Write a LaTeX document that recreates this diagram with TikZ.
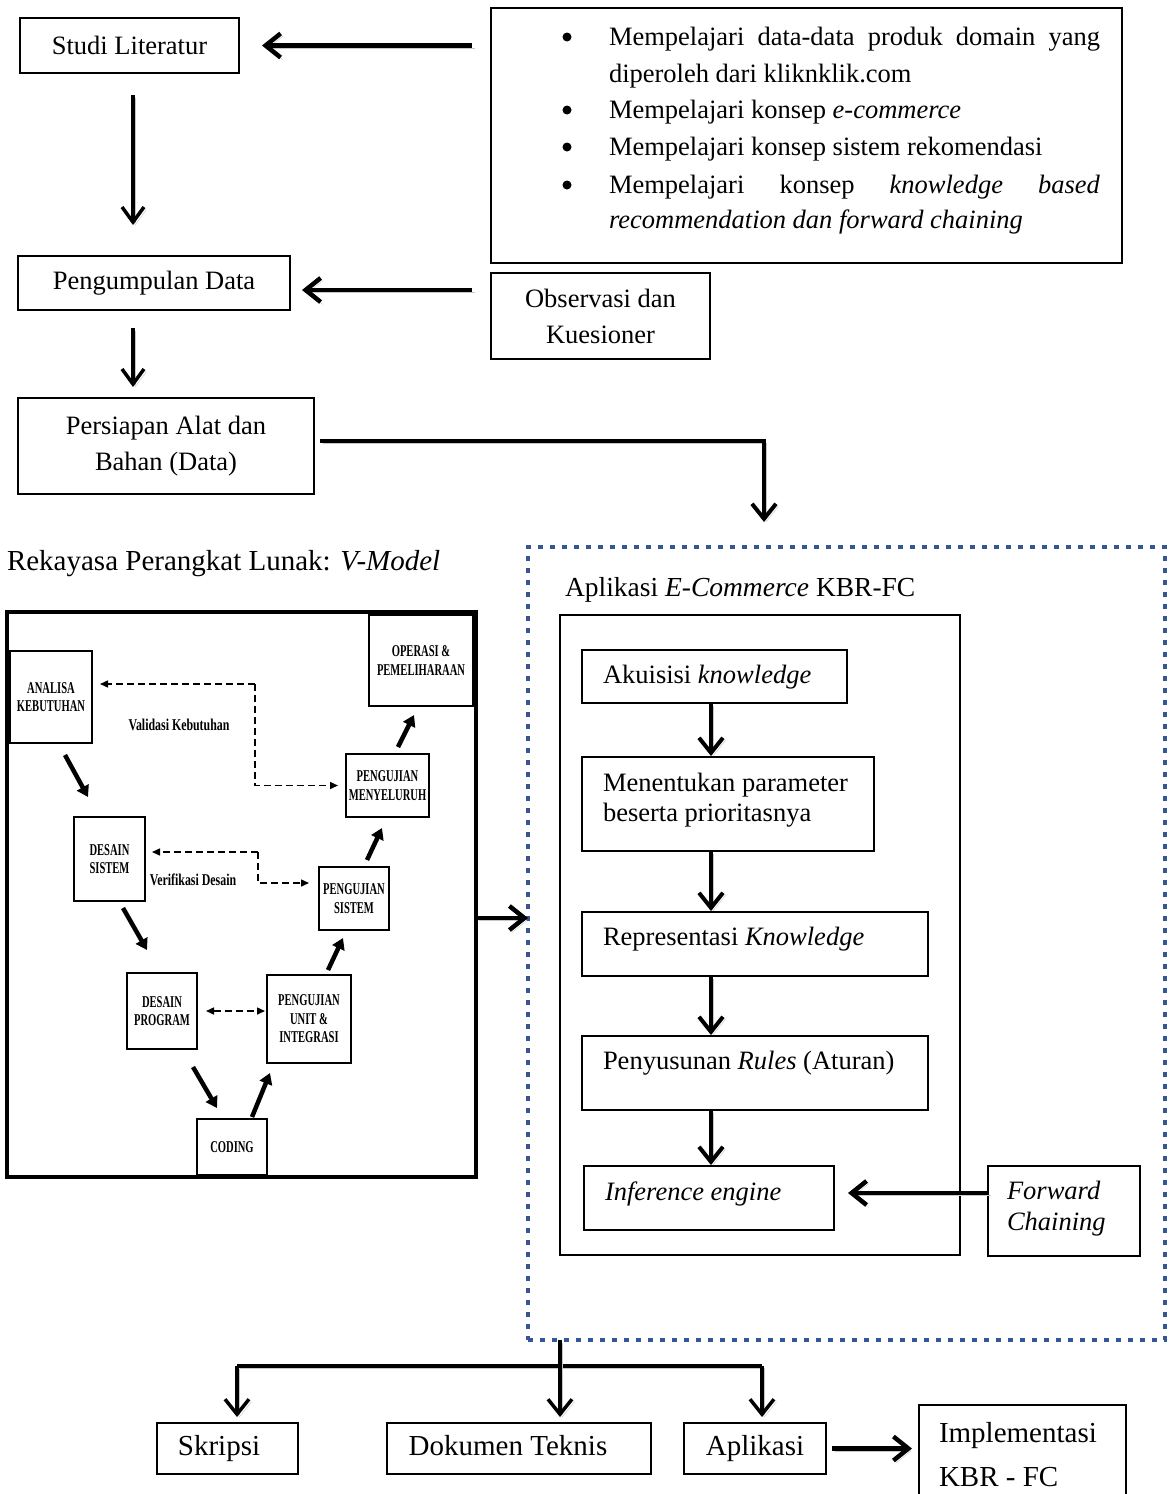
\documentclass[tikz,border=0pt]{standalone}
\usepackage{fontspec}
\setmainfont{Liberation Serif}
\newfontfamily\vmfont[FakeStretch=0.64]{Liberation Serif}
\newfontfamily\vlfont[FakeStretch=0.72]{Liberation Serif}
\usetikzlibrary{arrows.meta}
\definecolor{dotblue}{RGB}{52,86,148}
\begin{document}
\begin{tikzpicture}[x=1pt,y=-1pt,
  every node/.style={inner sep=0pt, outer sep=0pt},
  mainfont/.style={font=\fontsize{26.5}{36}\selectfont},
  box/.style={draw, line width=2pt, mainfont, align=center},
  rbox/.style={draw, line width=1.4pt},
  bbox/.style={draw, line width=1.5pt, font=\fontsize{29}{34}\selectfont, align=center, text height=20pt, text depth=7pt},
  txt/.style={mainfont, anchor=west, align=left},
  bulletdot/.style={circle, fill, minimum size=9pt},
  vbox/.style={draw, line width=1.8pt, font=\vmfont\bfseries\fontsize{16.5}{18.5}\selectfont, align=center},
  vlab/.style={font=\vlfont\bfseries\fontsize{16.5}{18}\selectfont},
  shadowline/.style={preaction={draw=gray!45, transform canvas={shift={(2.5pt,-2.5pt)}}}},
  bigarrow/.style={line width=4.5pt, -{Straight Barb[length=15pt,width=24pt]}, shadowline},
  midarrow/.style={line width=3.5pt, -{Straight Barb[length=15pt,width=22pt]}, shadowline},
  plainline/.style={line width=4.5pt, shadowline},
  varrow/.style={line width=4.5pt, -{Triangle[length=11pt,width=13pt]}},
  dasharrow/.style={line width=1.5pt, dash pattern=on 7pt off 4pt, -{Triangle[length=8pt,width=7pt]}},
  dasharrows/.style={line width=1.5pt, dash pattern=on 7pt off 4pt, {Triangle[length=8pt,width=7pt]}-{Triangle[length=8pt,width=7pt]}}
]
\useasboundingbox (0,0) rectangle (1170,1494);
\fill[white] (0,0) rectangle (1170,1494);

% ---------- top left column ----------
\node[box, minimum width=219pt, minimum height=55pt] (lit) at (129.5,45.5) {Studi Literatur};
\node[box, minimum width=272pt, minimum height=54pt] (peng) at (154,283) {Pengumpulan Data};
\node[box, minimum width=296pt, minimum height=96pt] (pers) at (166,446) {Persiapan Alat dan\\Bahan (Data)};
\node[box, minimum width=631pt, minimum height=255pt] (bul) at (806.5,135.5) {};
\node[box, minimum width=219pt, minimum height=86pt] (obs) at (600.5,316) {Observasi dan\\Kuesioner};

% bullet list
\node[bulletdot] (b1) at (567,37) {};
\node[bulletdot] (b2) at (567,110) {};
\node[bulletdot] (b3) at (567,147) {};
\node[bulletdot] (b4) at (567,185) {};
\node[mainfont, anchor=base west] (l1) at (609,45) {\makebox[491pt][s]{Mempelajari data-data produk domain yang}};
\node[mainfont, anchor=base west] (l2) at (609,82) {diperoleh dari kliknklik.com};
\node[mainfont, anchor=base west] (l3) at (609,118) {Mempelajari konsep \textit{e-commerce}};
\node[mainfont, anchor=base west] (l4) at (609,155) {Mempelajari konsep sistem rekomendasi};
\node[mainfont, anchor=base west] (l5) at (609,193) {\makebox[491pt][s]{Mempelajari konsep \textit{knowledge based}}};
\node[mainfont, anchor=base west] (l6) at (609,228) {\textit{recommendation dan forward chaining}};

\draw[bigarrow, shorten <=19pt, shorten >=23pt] (bul.west |- lit.east) -- (lit.east);
\draw[bigarrow, shorten <=19pt, shorten >=12pt] (obs.west |- 0,290) -- (peng.east |- 0,290);
\draw[midarrow, shorten <=22pt, shorten >=31pt] (lit.south -| 133,0) -- (peng.north -| 133,0);
\draw[midarrow, shorten <=18pt, shorten >=11pt] (peng.south -| 133,0) -- (pers.north -| 133,0);

% ---------- V-model ----------
\node[font=\fontsize{29}{34}\selectfont, anchor=west] (rpl) at (7,564) {Rekayasa Perangkat Lunak: \textit{V-Model}};
\node[draw, line width=3.5pt, minimum width=469pt, minimum height=565pt] (vfr) at (241.5,894.5) {};

\node[vbox, minimum width=82pt, minimum height=92pt] (ana) at (51,697) {ANALISA\\KEBUTUHAN};
\node[vbox, minimum width=104pt, minimum height=91pt] (ope) at (421,660.5) {OPERASI \&\\PEMELIHARAAN};
\node[vbox, minimum width=83pt, minimum height=63pt] (men) at (387.5,785.5) {PENGUJIAN\\MENYELURUH};
\node[vbox, minimum width=71pt, minimum height=84pt] (dsi) at (109.5,859) {DESAIN\\SISTEM};
\node[vbox, minimum width=70pt, minimum height=63pt] (psi) at (354,898.5) {PENGUJIAN\\SISTEM};
\node[vbox, minimum width=70pt, minimum height=76pt] (dpr) at (162,1011) {DESAIN\\PROGRAM};
\node[vbox, minimum width=84pt, minimum height=88pt] (uni) at (309,1019) {PENGUJIAN\\UNIT \&\\INTEGRASI};
\node[vbox, minimum width=70pt, minimum height=56pt] (cod) at (232,1147) {CODING};

\node[vlab] (vk) at (179,725) {Validasi Kebutuhan};
\node[vlab] (vd) at (193,880) {Verifikasi Desain};

\coordinate (vc) at (255,684);
\draw[dasharrow, shorten >=8pt] (vc) -- (ana.east |- vc);
\draw[dasharrow, shorten >=8pt] (vc) |- (men.west);
\coordinate (vdc) at (258,852);
\coordinate (vde) at (psi.west |- 0,883);
\draw[dasharrow, shorten >=7pt] (vdc) -- (dsi.east |- vdc);
\draw[dasharrow, shorten >=10pt] (vdc) |- (vde);
\draw[dasharrows, shorten <=9pt, shorten >=2pt] (dpr.east) -- (uni.west |- dpr.east);

\draw[varrow] ([shift={(14,12)}]ana.south) -- ([shift={(-21.5,-20)}]dsi.north);
\draw[varrow] ([shift={(13.5,7)}]dsi.south) -- ([shift={(-15,-23)}]dpr.north);
\draw[varrow] ([shift={(31,18)}]dpr.south) -- ([shift={(-15,-11)}]cod.north);
\draw[varrow] ([shift={(20,-2)}]cod.north) -- ([shift={(-39,10)}]uni.south);
\draw[varrow] ([shift={(19,-5)}]uni.north) -- ([shift={(-11,8)}]psi.south);
\draw[varrow] ([shift={(13,-7)}]psi.north) -- ([shift={(-5.5,11)}]men.south);
\draw[varrow] ([shift={(10.5,-7)}]men.north) -- ([shift={(-7,9)}]ope.south);

% ---------- application frame ----------
\node[draw=dotblue, line width=4pt, dash pattern=on 5pt off 7pt, minimum width=637pt, minimum height=793pt] (dfr) at (846.5,943.5) {};
\node[anchor=west, font=\fontsize{27.5}{32}\selectfont] (atit) at (565,590) {Aplikasi \textit{E-Commerce} KBR-FC};
\node[rbox, minimum width=400pt, minimum height=640pt] (inb) at (760,935) {};

\node[rbox, minimum width=265pt, minimum height=53pt] (akq) at (714.5,676.5) {};
\node[txt] (akqt) at (603,677) {Akuisisi \textit{knowledge}};
\node[rbox, minimum width=292pt, minimum height=94pt] (mnt) at (728,804) {};
\node[txt, font=\fontsize{26.5}{30}\selectfont] (mntt) at (603,800) {Menentukan parameter\\beserta prioritasnya};
\node[rbox, minimum width=346pt, minimum height=64pt] (rep) at (755,944) {};
\node[txt] (rept) at (603,939) {Representasi \textit{Knowledge}};
\node[rbox, minimum width=346pt, minimum height=74pt] (pen) at (755,1073) {};
\node[txt] (pent) at (603,1063) {Penyusunan \textit{Rules} (Aturan)};
\node[rbox, minimum width=250pt, minimum height=64pt] (inf) at (709,1198) {};
\node[txt] (inft) at (605,1194) {\textit{Inference engine}};
\node[rbox, minimum width=152pt, minimum height=90pt] (fc) at (1064,1211) {};
\node[txt, font=\fontsize{26.5}{31}\selectfont] (fct) at (1007,1209) {\textit{Forward}\\\textit{Chaining}};

\coordinate (cx) at (711,0);
\draw[bigarrow, line width=4pt, shorten >=1pt] (akq.south -| cx) -- (mnt.north -| cx);
\draw[bigarrow, line width=4pt, shorten >=1pt] (mnt.south -| cx) -- (rep.north -| cx);
\draw[bigarrow, line width=4pt, shorten >=1pt] (rep.south -| cx) -- (pen.north -| cx);
\draw[bigarrow, line width=4pt, shorten >=1pt] (pen.south -| cx) -- (inf.north -| cx);
\coordinate (fca) at (fc.west |- 0,1193);
\draw[bigarrow, shorten >=14pt] (fca) -- (inf.east |- fca);

% connectors into / out of the frame
\coordinate (pe) at (dfr.north -| 764,0);
\draw[bigarrow, line width=4pt, shorten <=6pt, shorten >=25pt] ([yshift=5pt]pers.east) -| (pe);
\coordinate (dfa) at (dfr.west |- 0,918);
\draw[bigarrow] (vfr.east |- dfa) -- (dfa);

% ---------- outputs ----------
\node[bbox, minimum width=141pt, minimum height=51pt] (skr) at (227.5,1448.5) {Skripsi\hspace*{17pt}};
\node[bbox, minimum width=264pt, minimum height=51pt] (dok) at (519,1448.5) {Dokumen Teknis\hspace*{22pt}};
\node[bbox, minimum width=142pt, minimum height=51pt] (apl) at (755,1448.5) {Aplikasi};
\node[draw, line width=1.5pt, minimum width=207pt, minimum height=105pt] (imp) at (1022.5,1457.5) {};
\node[anchor=west, align=left, font=\fontsize{29}{44}\selectfont] (impt) at (939,1455) {Implementasi\\KBR - FC};

\coordinate (tv) at (dfr.south -| 560,0);
\coordinate (hl) at (237,1366);
\coordinate (hr) at (762,1366);
\draw[plainline, line width=4pt] (hl) -- (hr);
\draw[bigarrow, line width=3.5pt, shorten >=6pt] (tv) -- (tv |- dok.north);
\draw[bigarrow, line width=3.5pt, shorten >=6pt] (hl) -- (hl |- skr.north);
\draw[bigarrow, line width=3.5pt, shorten >=6pt] (hr) -- (hr |- apl.north);
\draw[bigarrow, shorten <=6pt, shorten >=7pt] (apl.east) -- (imp.west |- apl.east);
\end{tikzpicture}
\end{document}
